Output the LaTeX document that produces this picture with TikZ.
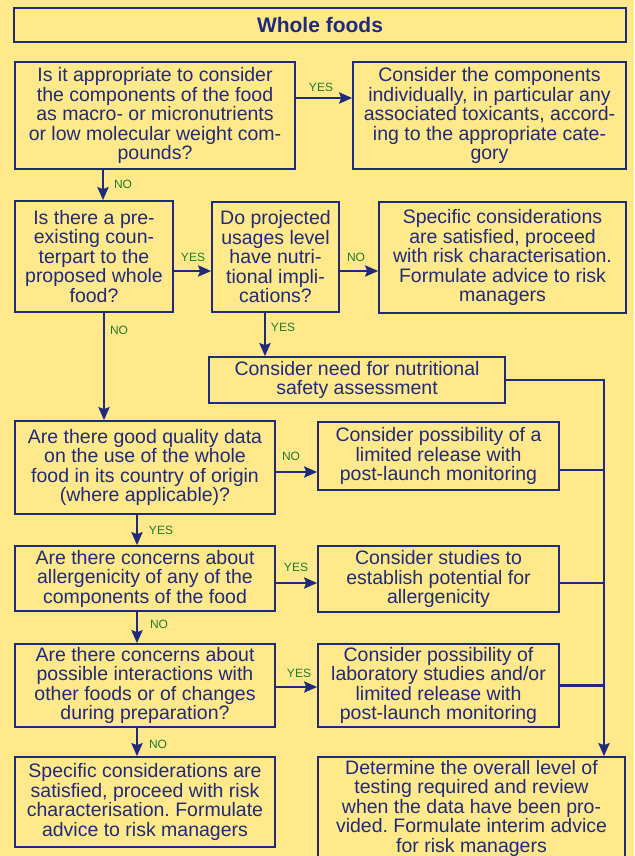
\documentclass[tikz,border=0pt]{standalone}
\usepackage{fontspec}
\setmainfont{Liberation Sans}
\usetikzlibrary{arrows.meta}
\definecolor{pagebg}{HTML}{FFE98A}
\definecolor{flownavy}{HTML}{1F2A7A}
\definecolor{flowgreen}{HTML}{1E7B2C}
\frenchspacing
\begin{document}
\begin{tikzpicture}[x = 1pt, y = -1pt,
        box/.style = {draw = flownavy, line width = 1.6pt, text = flownavy, align = center,
            inner sep = 0pt, font = \fontsize{19.5}{19.5}\selectfont},
        flow/.style = {draw = flownavy, line width = 2.6pt,
            -{Stealth[length = 13pt, width = 11pt, inset = 2pt]}},
        bus/.style = {draw = flownavy, line width = 2.6pt},
        answer/.style = {text = flowgreen, inner sep = 0pt, font = \fontsize{12}{12}\selectfont}]
                \useasboundingbox (0,0) rectangle (634,856);
                \fill[pagebg] (0,0) rectangle (634,856);
                \node[box, font = \bfseries\fontsize{21}{21}\selectfont, minimum width = 612pt, minimum height = 34pt] (title) at (320,25) {Whole foods};
                \begin{scope}[every node/.append style = {box}]
                    \node[minimum width = 280pt, minimum height = 107pt] (q1) at (155,115.5)
                        {Is it appropriate to consider\\ the components of the food\\ as macro- or micronutrients\\ or low molecular weight com-\\ pounds?};
                    \node[minimum width = 273pt, minimum height = 107pt] (comp) at (489.5,115.5)
                        {Consider the components\\ individually, in particular any\\ associated toxicants, accord-\\ ing to the appropriate cate-\\ gory};
                    \node[minimum width = 158pt, minimum height = 111pt] (q2) at (94,256.5)
                        {Is there a pre-\\ existing coun-\\ terpart to the\\ proposed whole\\ food?};
                    \node[minimum width = 127pt, minimum height = 110pt] (q3) at (275.5,257)
                        {Do projected\\ usages level\\ have nutri-\\ tional impli-\\ cations?};
                    \node[minimum width = 247pt, minimum height = 111pt] (spec1) at (502.5,257.5)
                        {Specific considerations\\ are satisfied, proceed\\ with risk characterisation.\\ Formulate advice to risk\\ managers};
                    \node[minimum width = 296pt, minimum height = 46pt] (nutr) at (357,380)
                        {Consider need for nutritional\\ safety assessment};
                    \node[minimum width = 260pt, minimum height = 93pt] (q4) at (145,467.5)
                        {Are there good quality data\\ on the use of the whole\\ food in its country of origin\\ (where applicable)?};
                    \node[minimum width = 241pt, minimum height = 68pt] (lim) at (438.5,456)
                        {Consider possibility of a\\ limited release with\\ post-launch monitoring};
                    \node[minimum width = 260pt, minimum height = 65pt] (q5) at (145,578.5)
                        {Are there concerns about\\ allergenicity of any of the\\ components of the food};
                    \node[minimum width = 241pt, minimum height = 66pt] (aller) at (438.5,579)
                        {Consider studies to\\ establish potential for\\ allergenicity};
                    \node[minimum width = 260pt, minimum height = 83pt] (q6) at (145,685.5)
                        {Are there concerns about\\ possible interactions with\\ other foods or of changes\\ during preparation?};
                    \node[minimum width = 241pt, minimum height = 83pt] (lab) at (438.5,685.5)
                        {Consider possibility of\\ laboratory studies and/or\\ limited release with\\ post-launch monitoring};
                    \node[minimum width = 260pt, minimum height = 90pt] (spec2) at (145,802)
                        {Specific considerations are\\ satisfied, proceed with risk\\ characterisation. Formulate\\ advice to risk managers};
                    \node[minimum width = 307pt, minimum height = 102pt] (final) at (471.5,808)
                        {Determine the overall level of\\ testing required and review\\ when the data have been pro-\\ vided. Formulate interim advice\\ for risk managers};
                \end{scope}
                \coordinate (bus) at (604,380);
                \draw[flow] ([yshift = 17.5pt]q1.east) -- ([yshift = 17.5pt]q1.east -| comp.west);
                \draw[flow] ([xshift = -52pt]q1.south) -- ([xshift = -52pt]q1.south |- q2.north);
                \draw[flow] ([yshift = -14.5pt]q2.east) -- ([yshift = -14.5pt]q2.east -| q3.west);
                \draw[flow] ([yshift = -14pt]q3.east) -- ([yshift = -14pt]q3.east -| spec1.west);
                \draw[flow] ([xshift = -10.5pt]q3.south) -- ([xshift = -10.5pt]q3.south |- nutr.north);
                \draw[flow] ([xshift = 10pt]q2.south) -- ([xshift = 10pt]q2.south |- q4.north);
                \draw[flow] ([yshift = -4.5pt]q4.east) -- ([yshift = -4.5pt]q4.east -| lim.west);
                \draw[flow] ([xshift = -8pt]q4.south) -- ([xshift = -8pt]q4.south |- q5.north);
                \draw[flow] ([yshift = -4.5pt]q5.east) -- ([yshift = -4.5pt]q5.east -| aller.west);
                \draw[flow] ([xshift = -8pt]q5.south) -- ([xshift = -8pt]q5.south |- q6.north);
                \draw[flow] ([yshift = -1.5pt]q6.east) -- ([yshift = -1.5pt]q6.east -| lab.west);
                \draw[flow] ([xshift = -8pt]q6.south) -- ([xshift = -8pt]q6.south |- spec2.north);
                \draw[flow] (nutr.east) -- (bus) -- (bus |- final.north);
                \draw[bus] ([yshift = -14pt]lim.east) -- ([yshift = -14pt]lim.east -| bus);
                \draw[bus] ([yshift = -4pt]aller.east) -- ([yshift = -4pt]aller.east -| bus);
                \draw[bus] (lab.east) -- (lab.east -| bus);
                \begin{scope}[every node/.append style = {answer}]
                    \node (yes1) at (321,87) {YES};
                    \node (no1) at (123,184) {NO};
                    \node (yes2) at (193,257) {YES};
                    \node (no2) at (356,257) {NO};
                    \node (yes3) at (283,327) {YES};
                    \node (no3) at (119,330) {NO};
                    \node (no4) at (291,456) {NO};
                    \node (yes4) at (161,530) {YES};
                    \node (yes5) at (296,567) {YES};
                    \node (no5) at (159,624) {NO};
                    \node (yes6) at (299,673) {YES};
                    \node (no6) at (158,744) {NO};
                \end{scope}
            \end{tikzpicture}
\end{document}
